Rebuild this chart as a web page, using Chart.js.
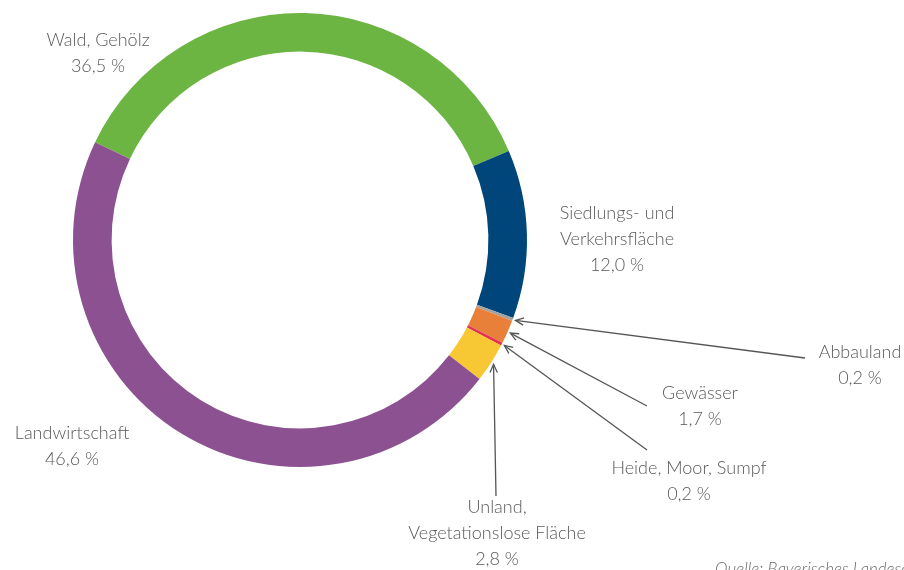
<!DOCTYPE html>
<html lang="de">
<head>
  <meta charset="UTF-8" />
  <title>Flächennutzung</title>
  <script src="https://cdn.jsdelivr.net/npm/chart.js"></script>
  <style>
    html, body { margin: 0; padding: 0; background: #fff; }
    .wrap { position: relative; width: 904px; height: 570px; overflow: hidden; }
  </style>
</head>
<body>
  <div class="wrap"><canvas id="ring" width="904" height="570"></canvas></div>
  <script>
    // data, clockwise starting with Wald
    const categories = ['Wald, Gehölz', 'Siedlungs- und Verkehrsfläche', 'Abbauland', 'Gewässer',
                        'Heide, Moor, Sumpf', 'Unland, Vegetationslose Fläche', 'Landwirtschaft'];
    const shares = [36.5, 12.0, 0.2, 1.7, 0.2, 2.8, 46.6];
    const shareLabels = ['36,5 %', '12,0 %', '0,2 %', '1,7 %', '0,2 %', '2,8 %', '46,6 %'];
    const colors = ['#6cb543', '#00467a', '#a3a3a3', '#e8803a', '#e3314f', '#f8c734', '#8b5190'];

    // label text lines + where to draw them (centre x / first line y)
    const labelLines = [
      ['Wald, Gehölz'],
      ['Siedlungs- und', 'Verkehrsfläche'],
      ['Abbauland'],
      ['Gewässer'],
      ['Heide, Moor, Sumpf'],
      ['Unland,', 'Vegetationslose Fläche'],
      ['Landwirtschaft']
    ];
    const labelPos = [
      [98, 40], [617, 213], [860, 352], [700, 393], [689, 468], [497, 507], [72, 433]
    ];
    // leader lines start here (label side); null = no arrow
    const leaderFrom = [null, null, [805, 358], [647, 406], [647, 450], [496, 496], null];

    const textColor = '#595959';
    const lineH = 26;

    const labelPlugin = {
      id: 'labels',
      afterDraw(chart) {
        const ctx = chart.ctx;
        const arcs = chart.getDatasetMeta(0).data;
        ctx.save();
        ctx.font = '300 18px Lato, sans-serif';
        ctx.fillStyle = textColor;
        ctx.textAlign = 'center';
        ctx.textBaseline = 'middle';
        labelLines.forEach((lines, i) => {
          const [x, y] = labelPos[i];
          lines.concat([shareLabels[i]]).forEach((t, k) => ctx.fillText(t, x, y + k * lineH));
        });

        // arrows to the small segments
        ctx.strokeStyle = '#555';
        ctx.lineWidth = 1.3;
        arcs.forEach((arc, i) => {
          if (!leaderFrom[i]) return;
          const a = (arc.startAngle + arc.endAngle) / 2;
          const r = arc.outerRadius + 3;
          const tx = arc.x + Math.cos(a) * r, ty = arc.y + Math.sin(a) * r;
          const [fx, fy] = leaderFrom[i];
          ctx.beginPath();
          ctx.moveTo(fx, fy);
          ctx.lineTo(tx, ty);
          ctx.stroke();
          const ang = Math.atan2(ty - fy, tx - fx);
          const h = 9, w = 0.42;
          ctx.beginPath();
          ctx.moveTo(tx - h * Math.cos(ang - w), ty - h * Math.sin(ang - w));
          ctx.lineTo(tx, ty);
          ctx.lineTo(tx - h * Math.cos(ang + w), ty - h * Math.sin(ang + w));
          ctx.stroke();
        });

        ctx.font = 'italic 300 17px Lato, sans-serif';
        ctx.fillStyle = '#6a6a6a';
        ctx.textAlign = 'left';
        ctx.textBaseline = 'alphabetic';
        ctx.fillText('Quelle: Bayerisches Landesamt für Statistik', 715, 575);
        ctx.restore();
      }
    };

    new Chart(document.getElementById('ring'), {
      type: 'doughnut',
      data: {
        labels: categories,
        datasets: [{
          data: shares,
          backgroundColor: colors,
          borderWidth: 0
        }]
      },
      options: {
        responsive: false,
        animation: false,
        cutout: '83%',
        rotation: -64.5,
        layout: { padding: { left: 73, top: 13, right: 377, bottom: 103 } },
        plugins: { legend: { display: false }, tooltip: { enabled: false } }
      },
      plugins: [labelPlugin]
    });
  </script>
</body>
</html>
